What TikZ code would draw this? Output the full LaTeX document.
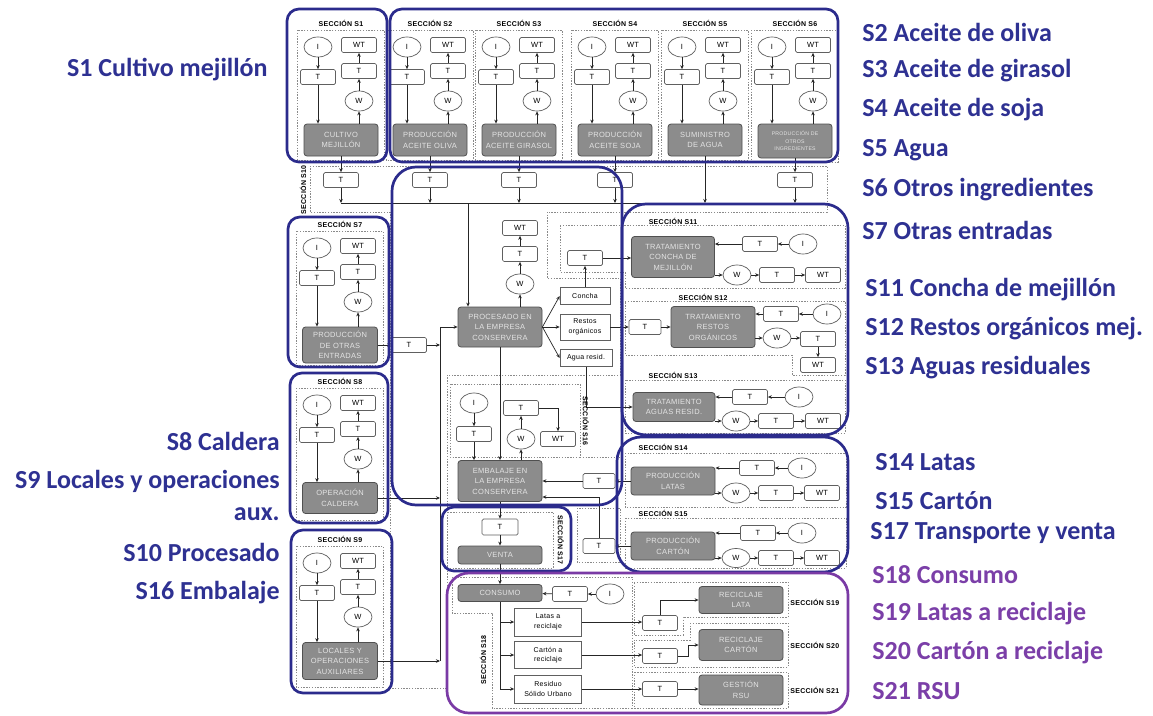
\documentclass[tikz,border=0pt]{standalone}
\usepackage{fontspec}
\setmainfont{Liberation Sans}[LetterSpace=4]
\newfontfamily\labfont{Carlito}
\usetikzlibrary{shapes.geometric,arrows.meta,calc}
\definecolor{navy}{HTML}{2B2B8C}
\definecolor{purp}{HTML}{7A3AA5}
\definecolor{labblue}{HTML}{2E3192}
\definecolor{labpurp}{HTML}{7B3FA8}
\definecolor{procfill}{HTML}{8C8C8C}
\definecolor{procdraw}{HTML}{505050}
\definecolor{proctext}{HTML}{E4E4E4}
\definecolor{boxdraw}{HTML}{606060}
\definecolor{dotcol}{HTML}{8A8A8A}
\newcommand{\unitsec}[8]{%
  \draw[dots] ({#2-21},{#3-17}) rectangle ({#2+66},{#3+#7});
  \node[sec] at ({#2+23},{#3-24}) {#8};
  \node[ell] (#1I) at (#2,#3) {I};
  \node[sbox] (#1WT) at ({#2+41},{#3-2}) {WT};
  \node[sbox] (#1Tl) at (#2,{#3+30}) {T};
  \node[sbox] (#1Tr) at ({#2+41},{#3+24}) {T};
  \node[ell] (#1W) at ({#2+41},{#3+54}) {W};
  \node[proc,#6] (#1P) at ({#2+23},{#3+#4}) {#5};
  \draw[arr] (#1I) -- (#1Tl);
  \draw[arr] (#1Tl.south) -- (#1Tl.south |- #1P.north);
  \draw[arr] (#1P.north -| #1W.south) -- (#1W.south);
  \draw[arr] (#1W) -- (#1Tr);
  \draw[arr] (#1Tr) -- (#1WT);
}
\begin{document}
\begin{tikzpicture}[x=1pt,y=-1pt,
  line width=0.7pt,
  sbox/.style={rectangle,rounded corners=1.5pt,draw=boxdraw,fill=white,font=\fontsize{7.5}{8}\selectfont,minimum width=35pt,minimum height=15pt,inner sep=0pt,line width=0.7pt},
  ell/.style={ellipse,draw=boxdraw,fill=white,font=\fontsize{7.5}{8}\selectfont,minimum width=28pt,minimum height=20pt,inner sep=0pt,line width=0.7pt},
  wbox/.style={rectangle,draw=boxdraw,fill=white,font=\fontsize{7}{9.5}\selectfont,align=center,minimum width=50pt,minimum height=17pt,inner sep=1pt,line width=0.7pt},
  proc/.style={rectangle,rounded corners=3pt,draw=procdraw,fill=procfill,text=proctext,font=\fontsize{7.5}{10.5}\selectfont,align=center,minimum width=74pt,minimum height=32pt,inner sep=1pt,line width=0.8pt},
  sec/.style={font=\bfseries\fontsize{7}{8}\selectfont,inner sep=0pt},
  dots/.style={draw=dotcol,line width=0.9pt,dash pattern=on 1.4pt off 1.4pt},
  arr/.style={draw=black!85,line width=0.7pt,-{Stealth[length=4pt,width=3.5pt]}},
  conn/.style={draw=black!85,line width=0.7pt},
  bluebox/.style={draw=navy,line width=2.7pt,rounded corners=12pt},
  bigblue/.style={draw=navy,line width=2.7pt,rounded corners=24pt},
  purpbox/.style={draw=purp,line width=2.7pt,rounded corners=22pt},
  lblue/.style={font=\labfont\bfseries\fontsize{26}{28}\selectfont,text=labblue,inner sep=0pt},
  lpurp/.style={lblue,text=labpurp}
]
\fill[white] (0,0) rectangle (1153,715);
\useasboundingbox (0,0) rectangle (1153,715);

% ---------- dotted regions ----------
\draw[dots] (310,166) -- (827,166) -- (827,212) -- (547,212) -- (547,278) -- (620,278) -- (620,375) -- (447,375) -- (447,688) -- (390,688) -- (390,212) -- (310,212) -- cycle;
\draw[dots] (560,225) -- (845,225) -- (845,288) -- (625,288) -- (625,272) -- (560,272) -- cycle;
\draw[dots] (625,301) -- (845,301) -- (845,375) -- (792,375) -- (792,355) -- (625,355) -- cycle;
\draw[dots] (625,380) rectangle (845,433);
\draw[dots] (625,453) rectangle (846,507);
\draw[dots] (625,518) rectangle (846,568);
\draw[dots] (450,384) rectangle (580,457);
\draw[dots] (580,457) -- (620,457);
\draw[dots] (577,508) rectangle (620,562);
\draw[dots] (447,512) rectangle (553,568);
\draw[dots] (452,577) -- (632,577) -- (632,708) -- (492,708) -- (492,613) -- (452,613) -- cycle;
\draw[dots] (634,582) -- (788,582) -- (788,617) -- (683,617) -- (683,635) -- (634,635) -- cycle;
\draw[dots] (690,623) -- (788,623) -- (788,667) -- (634,667) -- (634,640) -- (690,640) -- cycle;
\draw[dots] (634,672) rectangle (788,708);

% ---------- supply sections ----------
\unitsec{S1}{318}{47}{93}{CULTIVO\\MEJILLÓN}{}{113}{SECCIÓN S1}
\unitsec{S2}{407}{47}{93}{PRODUCCIÓN\\ACEITE OLIVA}{}{113}{SECCIÓN S2}
\unitsec{S3}{496}{47}{93}{PRODUCCIÓN\\ACEITE GIRASOL}{}{113}{SECCIÓN S3}
\unitsec{S4}{592}{47}{93}{PRODUCCIÓN\\ACEITE SOJA}{}{113}{SECCIÓN S4}
\unitsec{S5}{682}{47}{93}{SUMINISTRO\\DE AGUA}{}{113}{SECCIÓN S5}
\unitsec{S6}{772}{47}{94}{PRODUCCIÓN DE\\OTROS\\INGREDIENTES}{font=\fontsize{5.2}{7.5}\selectfont,minimum height=34pt}{115}{SECCIÓN S6}
\unitsec{S7}{317}{248}{97}{PRODUCCIÓN\\DE OTRAS\\ENTRADAS}{minimum height=36pt,minimum width=75pt}{117}{SECCIÓN S7}
\unitsec{S8}{317}{405}{93}{OPERACIÓN\\CALDERA}{minimum height=31pt,minimum width=75pt}{115}{SECCIÓN S8}
\unitsec{S9}{317}{563}{98}{LOCALES Y\\OPERACIONES\\AUXILIARES}{minimum height=37pt,minimum width=75pt}{124}{SECCIÓN S9}

% ---------- S10 transport row ----------
\node[sec,rotate=90] at (303,190) {SECCIÓN S10};
\node[sbox] (tA) at (341,180) {T};
\node[sbox] (tB) at (430,180) {T};
\node[sbox] (tC) at (519,180) {T};
\node[sbox] (tD) at (615,180) {T};
\node[sbox] (tF) at (795,180) {T};
\coordinate (hlL) at (341,203);
\coordinate (hlR) at (795,203);
\coordinate (hlP) at (468,203);
\draw[conn] (hlL) -- (hlR);
\foreach \s/\t in {S1/tA,S2/tB,S3/tC,S4/tD,S6/tF}{
  \draw[arr] (\s P) -- (\t);
  \draw[arr] (\t) -- (\t |- hlL);
}
\draw[arr] (S5P) -- (S5P |- hlL);

% ---------- S10 processing ----------
\node[proc,minimum width=84pt,minimum height=40pt] (P10) at (500,327) {PROCESADO EN\\LA EMPRESA\\CONSERVERA};
\draw[arr] (hlP) -- (hlP |- P10.north);
\node[ell] (W10) at (520,284) {W};
\node[sbox] (T10) at (520,254) {T};
\node[sbox] (WT10) at (520,228) {WT};
\draw[arr] (P10.north -| W10) -- (W10);
\draw[arr] (W10) -- (T10);
\draw[arr] (T10) -- (WT10);
\node[wbox] (conc) at (585,296) {Concha};
\node[wbox,minimum height=26pt] (rest) at (585,327) {Restos\\orgánicos};
\node[wbox,minimum width=52pt] (agua) at (586,358) {Agua resid.};
\draw[arr] (P10.east) -- (conc.west);
\draw[arr] (P10.east) -- (rest.west);
\draw[arr] (P10.east) -- (agua.west);

% S7 transport and vertical collector
\node[sbox] (T7) at (409,345) {T};
\coordinate (v1) at (440,327);
\coordinate (v2) at (440,661);
\draw[conn] (v1) -- (v2);
\draw[arr] (S7P.east) -- (T7.west);
\draw[arr] (T7.east) -- (T7.east -| v1);
\draw[arr] (v1) -- (v1 -| P10.west);
\draw[arr] (S8P.east) -- (S8P.east -| v1);
\draw[arr] (S9P.east) -- (S9P.east -| v1);

% ---------- S11 ----------
\node[sec] at (673,221) {SECCIÓN S11};
\node[sbox] (T11) at (585,258) {T};
\node[proc,minimum width=83pt,minimum height=41pt] (TC11) at (673,257) {TRATAMIENTO\\CONCHA DE\\MEJILLÓN};
\node[sbox] (Ti11) at (760,244) {T};
\node[ell] (I11) at (803,244) {I};
\node[ell] (W11) at (737,275) {W};
\node[sbox] (To11) at (777,275) {T};
\node[sbox] (WT11) at (823,275) {WT};
\draw[arr] (conc) -- (T11);
\draw[arr] (T11.east) -- (T11.east -| TC11.west);
\draw[arr] (I11) -- (Ti11);
\draw[arr] (Ti11) -- (Ti11 -| TC11.east);
\draw[arr] (TC11.east |- W11) -- (W11);
\draw[arr] (W11) -- (To11);
\draw[arr] (To11) -- (WT11);

% ---------- S12 ----------
\node[sec] at (703,297) {SECCIÓN S12};
\node[sbox,minimum width=32pt] (T12) at (645,327) {T};
\node[proc,minimum width=84pt,minimum height=41pt] (TR12) at (713,327) {TRATAMIENTO\\RESTOS\\ORGÁNICOS};
\node[sbox] (Ti12) at (781,314) {T};
\node[ell] (I12) at (827,314) {I};
\node[ell] (W12) at (777,338) {W};
\node[sbox] (To12) at (818,339) {T};
\node[sbox] (WT12) at (818,365) {WT};
\draw[arr] (rest) -- (T12);
\draw[arr] (T12) -- (TR12);
\draw[arr] (I12) -- (Ti12);
\draw[arr] (Ti12) -- (Ti12 -| TR12.east);
\draw[arr] (TR12.east |- W12) -- (W12);
\draw[arr] (W12) -- (W12 -| To12.west);
\draw[arr] (To12) -- (WT12);

% ---------- S13 ----------
\node[sec] at (673,375) {SECCIÓN S13};
\node[proc,minimum width=82pt,minimum height=29pt] (TA13) at (674,407) {TRATAMIENTO\\AGUAS RESID.};
\node[sbox] (Ti13) at (750,397) {T};
\node[ell] (I13) at (799,397) {I};
\node[ell] (W13) at (736,421) {W};
\node[sbox] (To13) at (776,421) {T};
\node[sbox] (WT13) at (823,421) {WT};
\draw[arr] (agua.south) |- (TA13.west);
\draw[arr] (I13) -- (Ti13);
\draw[arr] (Ti13) -- (Ti13 -| TA13.east);
\draw[arr] (TA13.east |- W13) -- (W13);
\draw[arr] (W13) -- (To13);
\draw[arr] (To13) -- (WT13);

% ---------- S14 / S15 ----------
\node[sec] at (663,447) {SECCIÓN S14};
\node[proc,minimum width=84pt,minimum height=28pt] (PL14) at (673,481) {PRODUCCIÓN\\LATAS};
\node[sbox] (Ti14) at (757,468) {T};
\node[ell] (I14) at (802,468) {I};
\node[ell] (W14) at (736,493) {W};
\node[sbox] (To14) at (776,493) {T};
\node[sbox] (WT14) at (822,493) {WT};
\draw[arr] (I14) -- (Ti14);
\draw[arr] (Ti14) -- (Ti14 -| PL14.east);
\draw[arr] (PL14.east |- W14) -- (W14);
\draw[arr] (W14) -- (To14);
\draw[arr] (To14) -- (WT14);
\node[sec] at (663,513) {SECCIÓN S15};
\node[proc,minimum width=84pt,minimum height=28pt] (PC15) at (673,546) {PRODUCCIÓN\\CARTÓN};
\node[sbox] (Ti15) at (758,533) {T};
\node[ell] (I15) at (802,533) {I};
\node[ell,minimum height=19pt] (W15) at (736,558) {W};
\node[sbox] (To15) at (776,558) {T};
\node[sbox] (WT15) at (822,558) {WT};
\draw[arr] (I15) -- (Ti15);
\draw[arr] (Ti15) -- (Ti15 -| PC15.east);
\draw[arr] (PC15.east |- W15) -- (W15);
\draw[arr] (W15) -- (To15);
\draw[arr] (To15) -- (WT15);

% ---------- S16 packaging ----------
\node[proc,minimum width=84pt,minimum height=41pt] (EMB) at (500,481) {EMBALAJE EN\\LA EMPRESA\\CONSERVERA};
\draw[arr] (P10.south) -- (EMB.north);
\node[ell] (I16) at (474,403) {I};
\node[sbox] (Ti16) at (474,434) {T};
\node[ell] (W16) at (521,439) {W};
\node[sbox] (To16) at (521,408) {T};
\node[sbox] (WT16) at (558,439) {WT};
\draw[arr] (I16) -- (Ti16);
\draw[arr] (Ti16) -- (Ti16 |- EMB.north);
\draw[arr] (EMB.north -| W16) -- (W16);
\draw[arr] (W16) -- (To16);
\draw[arr] (To16.east) -| (WT16.north);
\node[sec,rotate=-90] at (586,421) {SECCIÓN S16};
\node[sbox,minimum width=32pt] (Tl14) at (599,481) {T};
\node[sbox,minimum width=32pt] (Tl15) at (599,546) {T};
\draw[arr] (PL14) -- (Tl14);
\draw[arr] (Tl14) -- (Tl14 -| EMB.east);
\draw[arr] (PC15) -- (Tl15);
\draw[arr] (Tl15.north) |- ([yshift=-16pt]EMB.east);

% ---------- S17 sales ----------
\node[sbox,minimum width=36pt,minimum height=16pt] (Tv) at (500,527) {T};
\node[proc,minimum width=84pt,minimum height=18pt] (VEN) at (500,555) {VENTA};
\draw[arr] (EMB) -- (Tv);
\draw[arr] (Tv) -- (VEN);
\node[sec,rotate=-90] at (561,540) {SECCIÓN S17};

% ---------- S18 consumption ----------
\node[proc,minimum width=84pt,minimum height=17pt] (CONS) at (500,593) {CONSUMO};
\draw[arr] (VEN) -- (CONS);
\node[sbox] (Tc) at (570,594) {T};
\node[ell] (Ic) at (610,594) {I};
\draw[arr] (Ic) -- (Tc);
\draw[arr] (Tc) -- (CONS);
\node[wbox,minimum width=67pt,minimum height=28pt] (lat) at (548,622) {Latas a\\reciclaje};
\node[wbox,minimum width=67pt,minimum height=27pt] (cart) at (548,655) {Cartón a\\reciclaje};
\node[wbox,minimum width=67pt,minimum height=28pt] (rsu) at (548,689) {Residuo\\Sólido Urbano};
\draw[conn] (CONS.south) -- (CONS.south |- rsu.west);
\draw[arr] (CONS.south |- lat.west) -- (lat.west);
\draw[arr] (CONS.south |- cart.west) -- (cart.west);
\draw[arr] (CONS.south |- rsu.west) -- (rsu.west);
\node[sec,rotate=90] at (483,660) {SECCIÓN S18};

% ---------- S19 - S21 ----------
\node[sbox] (T19) at (660,623) {T};
\node[sbox] (T20) at (660,656) {T};
\node[sbox] (T21) at (660,689) {T};
\node[proc,minimum width=84pt,minimum height=27pt] (RL) at (741,600) {RECICLAJE\\LATA};
\node[proc,minimum width=84pt,minimum height=31pt] (RC) at (741,645) {RECICLAJE\\CARTÓN};
\node[proc,minimum width=84pt,minimum height=30pt] (GR) at (741,690) {GESTIÓN\\RSU};
\draw[arr] (lat.east) -- (lat.east -| T19.west);
\draw[arr] (cart.east) -- (cart.east -| T20.west);
\draw[arr] (rsu.east) -- (rsu.east -| T21.west);
\draw[arr] (T19.north) |- (RL.west);
\draw[arr] (T20.east) -- ++(10,0) |- (RC.west);
\draw[arr] (T21.east) -- (T21.east -| GR.west);
\node[sec,anchor=west] at (790,602) {SECCIÓN S19};
\node[sec,anchor=west] at (790,645) {SECCIÓN S20};
\node[sec,anchor=west] at (790,690) {SECCIÓN S21};

% ---------- blue / purple section frames ----------
\draw[bluebox] (287,9) rectangle (387,162);
\draw[bluebox] (390,9) rectangle (838,162);
\draw[bluebox] (288,217) rectangle (389,367);
\draw[bluebox] (290,373) rectangle (388,523);
\draw[bluebox] (291,530) rectangle (392,693);
\draw[bigblue] (392,167) rectangle (622,505);
\draw[bigblue] (622,204) rectangle (848,435);
\draw[bigblue] (617,437) rectangle (848,572);
\draw[bluebox] (442,507) rectangle (571,571);
\draw[purpbox] (447,573) rectangle (848,713);

% ---------- side labels ----------
\node[lblue,anchor=east] at (268,70) {S1 Cultivo mejillón};
\node[lblue,anchor=east] at (280,441) {S8 Caldera};
\node[lblue,anchor=east] at (280,481) {S9 Locales y operaciones};
\node[lblue,anchor=east] at (280,514) {aux.};
\node[lblue,anchor=east] at (280,552) {S10 Procesado};
\node[lblue,anchor=east] at (280,593) {S16 Embalaje};
\node[lblue,anchor=west] at (862,32) {S2 Aceite de oliva};
\node[lblue,anchor=west] at (862,71) {S3 Aceite de girasol};
\node[lblue,anchor=west] at (862,110) {S4 Aceite de soja};
\node[lblue,anchor=west] at (862,150) {S5 Agua};
\node[lblue,anchor=west] at (862,190) {S6 Otros ingredientes};
\node[lblue,anchor=west] at (862,230) {S7 Otras entradas};
\node[lblue,anchor=west] at (865,290) {S11 Concha de mejillón};
\node[lblue,anchor=west] at (865,329) {S12 Restos orgánicos mej.};
\node[lblue,anchor=west] at (865,368) {S13 Aguas residuales};
\node[lblue,anchor=west] at (875,462) {S14 Latas};
\node[lblue,anchor=west] at (875,501) {S15 Cartón};
\node[lblue,anchor=west] at (870,533) {S17 Transporte y venta};
\node[lpurp,anchor=west] at (872,575) {S18 Consumo};
\node[lpurp,anchor=west] at (872,614) {S19 Latas a reciclaje};
\node[lpurp,anchor=west] at (872,653) {S20 Cartón a reciclaje};
\node[lpurp,anchor=west] at (872,691) {S21 RSU};
\end{tikzpicture}
\end{document}
